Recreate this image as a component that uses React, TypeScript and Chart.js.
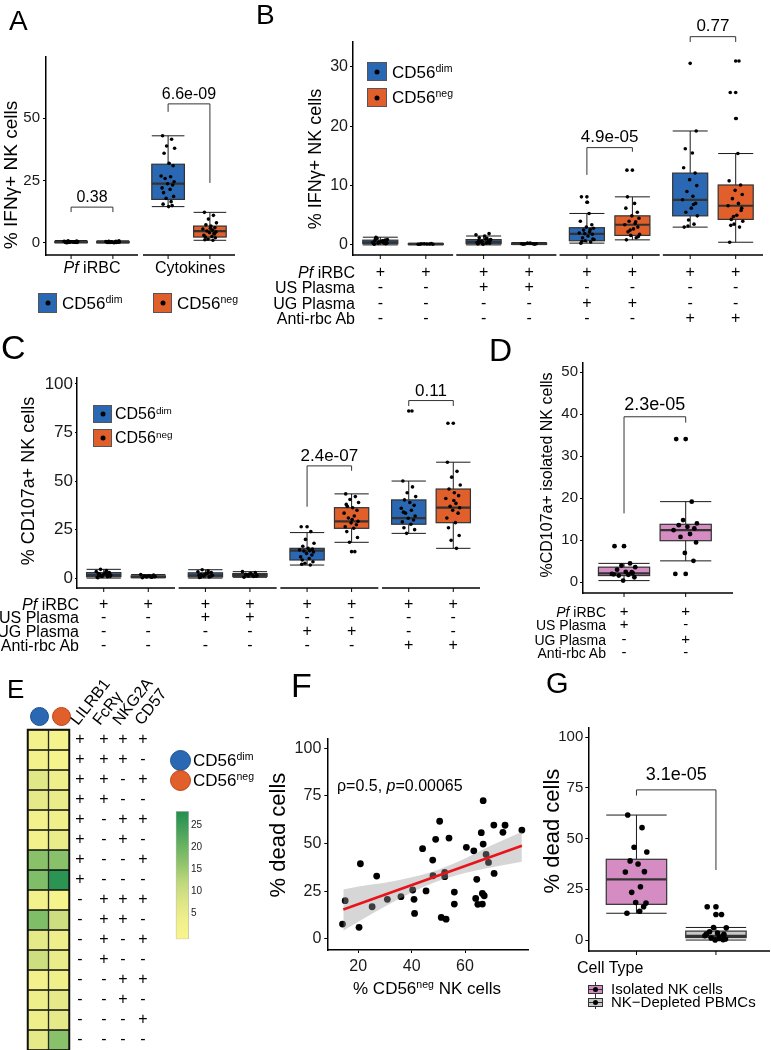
import React, { useEffect, useRef } from 'react';
import { Chart, registerables } from 'chart.js';

Chart.register(...registerables);

const W = 771;
const H = 1050;
const FF = 'Arial, "Liberation Sans", Helvetica, sans-serif';
const BLUE = '#2a68b3';
const ORANGE = '#e05f2a';
const PINK = '#d48cc3';
const GREYBOX = '#c8c8c8';

// ===================== DATA =====================
const CELL_SUP = ['dim', 'neg'];
const COND_ROWS = ['Pf iRBC', 'US Plasma', 'UG Plasma', 'Anti-rbc Ab'];
const JITTER = [-0.11, 0.07, -0.03, 0.13, -0.08, 0.02, 0.1, -0.14, 0.05, -0.06, 0.12, -0.01, 0.09, -0.12, 0.04, -0.09, 0.11, -0.04, 0.06, -0.1, 0.01, 0.08, -0.07];

// ---- Panel A : % IFNg+ NK cells (Pf iRBC / Cytokines) ----
const A_facets = ['Pf iRBC', 'Cytokines'];
const A_yTicks = [0, 25, 50];
const A_pf_dim_stats = [0.0, 0.1, 0.25, 0.45, 0.9];
const A_pf_dim_pts = [0.1, 0.3, 0.2, 0.5, 0.0, 0.4, 0.2, 0.6, 0.3, 0.8, 0.1, 0.4, 0.2, 0.5, 0.3, 0.1, 0.7, 0.2, 0.4, 0.3];
const A_pf_neg_stats = [0.0, 0.1, 0.2, 0.4, 0.8];
const A_pf_neg_pts = [0.2, 0.1, 0.4, 0.3, 0.6, 0.0, 0.2, 0.5, 0.3, 0.1, 0.8, 0.2, 0.4, 0.3, 0.1, 0.5, 0.2, 0.3, 0.6, 0.1];
const A_cyt_dim_stats = [14.5, 17.4, 23.7, 31.5, 42.9];
const A_cyt_dim_pts = [42.9, 41.5, 38.8, 37.9, 35.9, 31.9, 30.9, 26.8, 26.5, 25.8, 24.5, 23.7, 23.2, 22.0, 21.4, 20.1, 18.6, 17.8, 16.5, 15.5, 14.5, 14.9];
const A_cyt_neg_stats = [1.0, 2.3, 4.7, 6.7, 12.2];
const A_cyt_neg_pts = [12.2, 11.0, 9.5, 8.0, 7.2, 6.7, 6.0, 5.5, 5.0, 4.7, 4.3, 4.0, 3.5, 3.0, 2.5, 2.3, 2.0, 1.5, 1.0, 1.2, 5.8, 3.7];
const A_pvals = ['0.38', '6.6e-09'];
const A_bracketY = [[14.3, 12.3, 12.3], [55.7, 52.5, 24.0]];

// ---- Panel B : % IFNg+ NK cells, 4 conditions ----
const B_yTicks = [0, 10, 20, 30];
const B_stats = [
  [0.0, 0.2, 0.45, 0.8, 1.3], [0.02, 0.08, 0.12, 0.18, 0.3],
  [0.0, 0.2, 0.5, 0.9, 1.5], [0.05, 0.1, 0.18, 0.28, 0.4],
  [0.3, 0.7, 1.85, 2.9, 5.3], [0.85, 1.6, 3.4, 4.9, 8.1],
  [3.0, 4.9, 7.6, 12.1, 19.2], [0.45, 4.3, 6.6, 10.1, 15.4],
];
const B_pts = [
  [0.1, 0.3, 0.5, 0.9, 1.3, 0.6, 0.2, 0.4, 0.7, 1.1, 0.3, 0.5, 0.8, 0.2, 0.6, 1.0, 0.4, 0.3, 0.5, 0.7],
  [0.1, 0.15, 0.2, 0.1, 0.2, 0.15, 0.25, 0.1],
  [0.2, 0.4, 0.6, 0.9, 1.2, 1.5, 1.9, 1.7, 0.3, 0.5, 0.8, 0.1, 0.6, 0.4, 1.0, 0.7, 0.3, 0.5, 1.1, 0.2],
  [0.1, 0.2, 0.3, 0.2, 0.15, 0.3, 0.1, 0.2],
  [0.3, 0.5, 0.7, 0.9, 1.2, 1.5, 1.8, 2.0, 2.2, 2.5, 2.8, 3.0, 3.4, 4.0, 5.3, 0.6, 1.0, 1.9, 2.6, 8.1, 7.2],
  [0.85, 1.2, 1.6, 1.8, 2.2, 2.7, 3.0, 3.4, 3.6, 4.0, 4.5, 4.9, 5.5, 6.2, 7.0, 8.1, 1.4, 2.5, 3.9, 12.6],
  [3.0, 3.5, 4.2, 4.9, 5.5, 6.2, 7.0, 7.6, 8.2, 9.0, 10.0, 11.0, 12.1, 13.0, 15.5, 16.2, 19.2, 3.2, 6.8],
  [0.45, 3.0, 3.5, 4.0, 4.3, 5.0, 5.8, 6.6, 7.0, 7.8, 8.5, 9.2, 10.1, 10.8, 15.4, 3.3, 6.2, 4.8, 31.0, 25.7, 21.3],
];
const B_out = [[], [], [], [], [8.1, 7.2], [12.6], [30.6], [31.0, 25.7, 21.3]];
const B_marks = ['+---', '+---', '++--', '++--', '+-+-', '+-+-', '+--+', '+--+'];
const B_pvals = ['4.9e-05', '0.77'];
const B_bracketY = [[16.4, 11.8, 15.7], [35.1, 34.2, 34.2]];

// ---- Panel C : % CD107a+ NK cells ----
const C_yTicks = [0, 25, 50, 75, 100];
const C_stats = [
  [0.1, 0.8, 1.6, 2.9, 4.6], [0.2, 0.5, 0.8, 1.2, 1.9],
  [0.1, 0.7, 1.5, 2.8, 4.4], [0.5, 1.0, 1.6, 2.4, 3.4],
  [6.8, 9.4, 14.2, 15.4, 23.5], [18.5, 25.7, 29.3, 36.3, 43.4],
  [23.1, 27.8, 30.9, 40.3, 50.0], [15.4, 28.6, 36.3, 45.9, 59.7],
];
const C_pts = [
  [0.3, 0.8, 1.2, 1.6, 2.0, 2.5, 2.9, 3.5, 4.0, 4.6, 1.0, 1.8, 2.2, 0.5, 3.1, 1.4, 2.7, 0.9, 1.9, 2.4],
  [0.3, 0.5, 0.7, 0.9, 1.1, 1.3, 1.6, 1.9, 0.6, 1.0, 0.8, 1.2],
  [0.4, 0.7, 1.1, 1.5, 1.9, 2.4, 2.8, 3.3, 3.9, 4.4, 1.3, 2.1, 0.9, 1.7, 2.6, 0.6, 3.0, 1.4],
  [0.5, 0.9, 1.2, 1.6, 2.0, 2.4, 2.9, 3.4, 1.4, 1.8, 1.1, 2.2],
  [26.5, 24.0, 20.0, 18.0, 16.5, 15.4, 15.0, 14.6, 14.2, 14.0, 13.5, 12.8, 12.0, 11.0, 10.2, 9.4, 8.5, 7.7, 6.8, 7.2],
  [43.4, 42.0, 40.5, 39.0, 37.0, 36.3, 35.0, 33.5, 32.0, 31.0, 29.3, 28.5, 27.5, 26.5, 25.7, 24.0, 21.0, 18.5, 13.7, 38.0, 30.2],
  [50.0, 47.0, 44.0, 42.0, 40.3, 39.0, 37.5, 36.0, 35.0, 33.5, 32.0, 30.9, 30.0, 29.0, 27.8, 26.0, 25.0, 23.1, 86.0, 34.0],
  [59.7, 55.0, 52.0, 48.0, 45.9, 44.0, 42.5, 41.0, 38.5, 37.0, 36.3, 35.0, 33.5, 31.0, 28.6, 26.0, 22.0, 19.5, 15.4, 79.7, 40.0],
];
const C_out = [[], [], [], [], [26.5], [13.7], [86.0], [79.7]];
const C_marks = ['+---', '+---', '++--', '++--', '+-+-', '+-+-', '+--+', '+--+'];
const C_pvals = ['2.4e-07', '0.11'];
const C_bracketY = [[57.8, 36.8, 55.3], [91.4, 88.6, 88.6]];

// ---- Panel D : %CD107a+ isolated NK cells ----
const D_yTicks = [0, 10, 20, 30, 40, 50];
const D_stats = [[0.4, 1.6, 2.1, 3.6, 4.5], [5.1, 9.9, 12.4, 13.8, 19.2]];
const D_pts = [
  [8.6, 4.5, 4.0, 3.6, 3.0, 2.5, 2.2, 2.0, 1.8, 1.6, 1.2, 0.4, 2.4, 1.9],
  [34.1, 19.2, 14.8, 14.0, 13.6, 13.2, 12.8, 12.4, 11.5, 10.8, 9.5, 7.0, 5.1, 2.0],
];
const D_out = [[8.6], [34.1, 2.0]];
const D_marks = ['++--', '+-+-'];
const D_pval = '2.3e-05';
const D_bracketY = [39.4, 16.4, 38.0];

// ---- Panel E : heatmap of phenotype combinations ----
const E_markers = ['LILRB1', 'FcRγ', 'NKG2A', 'CD57'];
const E_combos = ['++++', '+++-', '++-+', '++--', '+-++', '+-+-', '+--+', '+---', '-+++', '-++-', '-+-+', '-+--', '--++', '--+-', '---+', '----'];
const E_dim = [2, 2, 7, 6, 2, 2, 17, 18, 2, 18, 6, 10, 2, 4, 4, 6];
const E_neg = [1, 1, 4, 5, 3, 5, 17, 27, 1, 10, 4, 5, 3, 6, 6, 17];
const E_scaleTicks = [5, 10, 15, 20, 25];
const E_scaleMin = -0.9;
const E_scaleMax = 28.2;

// ---- Panel F : % dead cells vs % CD56neg ----
const F_x = [14.1, 15.1, 20.3, 20.8, 25.2, 26.9, 30.9, 36.0, 40.4, 40.9, 41.1, 44.1, 45.4, 47.9, 48.0, 49.0, 50.5, 51.1, 52.4, 52.4, 52.9, 54.0, 56.0, 56.0, 60.5, 63.3, 64.0, 64.4, 64.8, 66.1, 66.8, 66.8, 66.5, 66.5, 67.2, 67.9, 68.8, 70.8, 70.9, 74.2, 75.0, 81.3];
const F_y = [7.7, 20.0, 6.0, 39.4, 16.8, 32.9, 20.7, 22.1, 25.6, 20.7, 13.3, 47.3, 25.1, 41.3, 33.1, 52.2, 61.7, 11.2, 34.9, 32.6, 10.3, 52.9, 24.5, 18.2, 48.0, 46.2, 21.2, 31.2, 18.1, 55.7, 72.5, 49.7, 23.8, 18.2, 22.6, 44.3, 40.1, 59.7, 34.3, 55.9, 59.6, 57.1];
const F_fitX = [14.4, 81.3];
const F_fitY = [15.4, 48.8];
const F_bandX = [14.4, 20, 30, 40, 50, 60, 70, 81.3];
const F_bandLo = [4.2, 8.9, 17.0, 24.3, 30.3, 34.5, 37.5, 40.4];
const F_bandHi = [25.9, 27.5, 29.4, 32.3, 36.3, 42.1, 49.1, 56.2];
const F_xTicks = [20, 40, 60];
const F_yTicks = [0, 25, 50, 75, 100];

// ---- Panel G : % dead cells by cell type ----
const G_types = ['Isolated NK cells', 'NK\u2212Depleted PBMCs'];
const G_yTicks = [0, 25, 50, 75, 100];
const G_stats = [[13.2, 17.6, 29.9, 39.8, 61.6], [0.0, 1.2, 2.1, 4.4, 6.2]];
const G_pts = [
  [61.6, 55.4, 45.7, 43.4, 39.0, 37.5, 33.7, 33.5, 26.3, 23.5, 18.2, 18.5, 16.4, 13.2, 14.2],
  [16.4, 12.6, 6.2, 6.0, 4.1, 3.5, 2.8, 2.1, 1.5, 1.0, 0.5, 0.0, 0.2, 3.0, 0.8],
];
const G_out = [[], [16.4, 12.6]];
const G_pval = '3.1e-05';
const G_bracketY = [74.0, 71.2, 34.5];

// ===================== HELPERS =====================
const FACET_W = 2.2;
const facetPos = (n: number, gap: number) => {
  const r: number[] = [];
  for (let f = 0; f < n; f++) for (let k = 0; k < 2; k++) r.push(f * (FACET_W + gap) + 0.6 + k);
  return r;
};
const facetSegs = (n: number, gap: number) =>
  Array.from({ length: n }, (_, f) => [f * (FACET_W + gap), f * (FACET_W + gap) + FACET_W]);

type Box = { pos: number; color: string; stats: number[]; pts: number[]; out: number[] };
const mkBoxes = (pos: number[], colors: string[], stats: number[][], pts: number[][], out: number[][]): Box[] =>
  pos.map((p, i) => ({ pos: p, color: colors[i % colors.length], stats: stats[i], pts: pts[i], out: out[i] }));

function seg(ctx: CanvasRenderingContext2D, x1: number, y1: number, x2: number, y2: number) {
  ctx.beginPath();
  ctx.moveTo(x1, y1);
  ctx.lineTo(x2, y2);
  ctx.stroke();
}

const yAxis = (min: number, max: number, ticks: number[], size: number, len: number, pad: number) => ({
  type: 'linear',
  min,
  max,
  afterFit: (sc: any) => { sc.width = 40; },
  afterBuildTicks: (sc: any) => { sc.ticks = ticks.map((v) => ({ value: v })); },
  grid: { display: true, drawOnChartArea: false, drawTicks: true, tickLength: len, color: '#000', lineWidth: 1 },
  border: { display: true, color: '#000', width: 1.5 },
  ticks: { font: { family: FF, size }, color: '#1a1a1a', padding: pad, autoSkip: false },
});

const baseOpts = (area: number[], leftAxisW: number, bottomAxisH: number) => ({
  animation: false,
  responsive: false,
  devicePixelRatio: 1,
  events: [],
  layout: {
    autoPadding: false,
    padding: { left: area[0] - leftAxisW, top: area[1], right: W - area[2], bottom: H - area[3] - bottomAxisH },
  },
  plugins: { legend: { display: false }, tooltip: { enabled: false } },
});

type Spec = {
  area: number[]; x: number[]; y: number[]; yTicks: number[];
  tick: number[]; boxes: Box[]; boxW: number; jit: number; ptR: number;
  segs: number[][]; brackets: any[]; pSize: number; pGap: number;
  signs?: { rows: number[]; marks: string[]; size: number };
};

function boxConfig(s: Spec) {
  const pts: any[] = [];
  const outs: any[] = [];
  s.boxes.forEach((b) => {
    b.pts.forEach((v, i) => pts.push({ x: b.pos + JITTER[i % JITTER.length] * s.jit, y: v }));
    b.out.forEach((v) => outs.push({ x: b.pos, y: v }));
  });
  const plugin = {
    id: 'boxes',
    beforeDatasetsDraw(chart: any) {
      const { ctx, chartArea: ca } = chart;
      const xs = chart.scales.x;
      const ys = chart.scales.y;
      ctx.save();
      ctx.strokeStyle = '#000';
      ctx.lineWidth = 1.5;
      const yb = ca.bottom;
      s.segs.forEach(([a, b]) => seg(ctx, xs.getPixelForValue(a), yb, xs.getPixelForValue(b), yb));
      ctx.lineWidth = 1;
      s.boxes.forEach((b) => {
        const x = xs.getPixelForValue(b.pos);
        seg(ctx, x, yb, x, yb + 4);
      });
      s.boxes.forEach((b) => {
        const cx = xs.getPixelForValue(b.pos);
        const hw = xs.getPixelForValue(b.pos + s.boxW / 2) - cx;
        const [lo, q1, md, q3, hi] = b.stats.map((v) => ys.getPixelForValue(v));
        ctx.strokeStyle = '#1a1a1a';
        ctx.lineWidth = 1;
        seg(ctx, cx, lo, cx, hi);
        seg(ctx, cx - hw, lo, cx + hw, lo);
        seg(ctx, cx - hw, hi, cx + hw, hi);
        ctx.fillStyle = b.color;
        ctx.fillRect(cx - hw, q3, 2 * hw, q1 - q3);
        ctx.strokeStyle = '#333';
        ctx.lineWidth = 1.2;
        ctx.strokeRect(cx - hw, q3, 2 * hw, q1 - q3);
        ctx.lineWidth = 2.2;
        seg(ctx, cx - hw, md, cx + hw, md);
      });
      ctx.restore();
    },
    afterDatasetsDraw(chart: any) {
      const { ctx } = chart;
      const xs = chart.scales.x;
      const ys = chart.scales.y;
      ctx.save();
      ctx.strokeStyle = '#333';
      ctx.lineWidth = 1;
      ctx.fillStyle = '#000';
      ctx.textAlign = 'center';
      ctx.textBaseline = 'middle';
      ctx.font = `${s.pSize}px ${FF}`;
      s.brackets.forEach((br) => {
        const xa = xs.getPixelForValue(s.boxes[br.a].pos);
        const xb = xs.getPixelForValue(s.boxes[br.b].pos);
        const y = ys.getPixelForValue(br.y);
        ctx.beginPath();
        ctx.moveTo(xa, ys.getPixelForValue(br.yl));
        ctx.lineTo(xa, y);
        ctx.lineTo(xb, y);
        ctx.lineTo(xb, ys.getPixelForValue(br.yr));
        ctx.stroke();
        ctx.fillText(br.label, (xa + xb) / 2, y - s.pGap);
      });
      if (s.signs) {
        const sg = s.signs;
        ctx.font = `${sg.size}px ${FF}`;
        sg.rows.forEach((ry, r) => {
          s.boxes.forEach((b, i) => {
            ctx.fillText(sg.marks[i][r], xs.getPixelForValue(b.pos), ry);
          });
        });
      }
      ctx.restore();
    },
  };
  const [tSize, tLen, tPad] = s.tick;
  return {
    type: 'scatter',
    data: {
      datasets: [
        { data: pts, pointRadius: s.ptR, pointHoverRadius: s.ptR, backgroundColor: '#000', borderWidth: 0 },
        { data: outs, pointRadius: s.ptR, pointHoverRadius: s.ptR, backgroundColor: '#000', borderWidth: 0 },
      ],
    },
    options: {
      ...baseOpts(s.area, 40, 0),
      scales: {
        x: { type: 'linear', display: false, min: s.x[0], max: s.x[1] },
        y: yAxis(s.y[0], s.y[1], s.yTicks, tSize, tLen, tPad),
      },
    },
    plugins: [plugin],
  };
}

const mkBrackets = (pairs: number[][], ys: number[][], labels: string[]) =>
  pairs.map((p, i) => ({ a: p[0], b: p[1], y: ys[i][0], yl: ys[i][1], yr: ys[i][2], label: labels[i] }));

// ===================== PANEL SPECS =====================
const A_GAP = 0.12;
const specA: Spec = {
  area: [46, 57, 235, 255], x: [0, 2 * FACET_W + A_GAP], y: [-4.9, 74.5], yTicks: A_yTicks,
  tick: [15, 3, 3],
  boxes: mkBoxes(facetPos(2, A_GAP), [BLUE, ORANGE],
    [A_pf_dim_stats, A_pf_neg_stats, A_cyt_dim_stats, A_cyt_neg_stats],
    [A_pf_dim_pts, A_pf_neg_pts, A_cyt_dim_pts, A_cyt_neg_pts], [[], [], [], []]),
  boxW: 0.78, jit: 1.2, ptR: 1.8,
  segs: facetSegs(2, A_GAP),
  brackets: mkBrackets([[0, 1], [2, 3]], A_bracketY, A_pvals), pSize: 16, pGap: 9.5,
};

const B_GAP = 0.07;
const specB: Spec = {
  area: [353, 42, 763, 255], x: [0, 4 * FACET_W + 3 * B_GAP], y: [-1.7, 34.2], yTicks: B_yTicks,
  tick: [16, 3, 2],
  boxes: mkBoxes(facetPos(4, B_GAP), [BLUE, ORANGE], B_stats, B_pts, B_out),
  boxW: 0.77, jit: 1.2, ptR: 1.8,
  segs: facetSegs(4, B_GAP),
  brackets: mkBrackets([[4, 5], [6, 7]], B_bracketY, B_pvals), pSize: 17, pGap: 10,
  signs: { rows: [273, 288, 304, 319], marks: B_marks, size: 16 },
};

const C_GAP = 0.083;
const specC: Spec = {
  area: [77, 378, 480, 588], x: [0, 4 * FACET_W + 3 * C_GAP], y: [-5.0, 103], yTicks: C_yTicks,
  tick: [17, 2, 2],
  boxes: mkBoxes(facetPos(4, C_GAP), [BLUE, ORANGE], C_stats, C_pts, C_out),
  boxW: 0.77, jit: 1.2, ptR: 1.8,
  segs: facetSegs(4, C_GAP),
  brackets: mkBrackets([[4, 5], [6, 7]], C_bracketY, C_pvals), pSize: 17, pGap: 9.3,
  signs: { rows: [605, 618, 632, 646], marks: C_marks, size: 16 },
};

const specD: Spec = {
  area: [583, 363, 733, 593], x: [0.335, 2.767], y: [-2.55, 52.2], yTicks: D_yTicks,
  tick: [15, 3, 2],
  boxes: mkBoxes([1, 2], [PINK], D_stats, D_pts, D_out),
  boxW: 0.83, jit: 1.4, ptR: 2.4,
  segs: [[0.335, 2.767]],
  brackets: mkBrackets([[0, 1]], [D_bracketY], [D_pval]), pSize: 18, pGap: 11.7,
  signs: { rows: [612, 625, 640, 653], marks: D_marks, size: 15 },
};

const specG: Spec = {
  area: [588.3, 728, 770, 951], x: [0.394, 2.68], y: [-5.4, 104.5], yTicks: G_yTicks,
  tick: [15, 3, 2],
  boxes: mkBoxes([1, 2], [PINK, GREYBOX], G_stats, G_pts, G_out),
  boxW: 0.76, jit: 1.0, ptR: 2.8,
  segs: [[0.394, 2.68]],
  brackets: mkBrackets([[0, 1]], [G_bracketY], [G_pval]), pSize: 18, pGap: 15,
};

// ===================== HEATMAP (E) =====================
const HEAT_STOPS: [number, string][] = [
  [0, '#f7f48c'], [4, '#eeee8a'], [8, '#dbe486'], [12, '#bfd87c'],
  [16, '#93c56d'], [20, '#6cb463'], [24, '#45a05a'], [28, '#23904f'],
];
const hexRgb = (h: string) => [1, 3, 5].map((i) => parseInt(h.slice(i, i + 2), 16));
function heat(v: number): string {
  const st = HEAT_STOPS;
  if (v <= st[0][0]) return st[0][1];
  for (let i = 1; i < st.length; i++) {
    if (v <= st[i][0]) {
      const t = (v - st[i - 1][0]) / (st[i][0] - st[i - 1][0]);
      const a = hexRgb(st[i - 1][1]);
      const b = hexRgb(st[i][1]);
      return `rgb(${a.map((c, j) => Math.round(c + (b[j] - c) * t)).join(',')})`;
    }
  }
  return st[st.length - 1][1];
}

function heatConfig() {
  const signX = [80, 104, 123, 143];
  return {
    type: 'bar',
    data: {
      labels: CELL_SUP,
      datasets: E_combos.map((c, i) => ({
        label: c,
        data: [1, 1],
        backgroundColor: [heat(E_dim[i]), heat(E_neg[i])],
        borderColor: '#111',
        borderWidth: 1,
        borderSkipped: false,
        barPercentage: 1,
        categoryPercentage: 1,
        stack: 'rows',
      })),
    },
    options: {
      ...baseOpts([28, 730, 69, 1050], 0, 0),
      scales: {
        x: { stacked: true, display: false },
        y: { stacked: true, display: false, reverse: true, min: 0, max: E_combos.length },
      },
    },
    plugins: [{
      id: 'signs',
      afterDatasetsDraw(chart: any) {
        const { ctx } = chart;
        const ys = chart.scales.y;
        ctx.save();
        ctx.strokeStyle = '#111';
        ctx.lineWidth = 1.5;
        const ca = chart.chartArea;
        ctx.strokeRect(ca.left - 0.5, ca.top - 0.5, ca.right - ca.left + 1, ca.bottom - ca.top + 1);
        ctx.fillStyle = '#000';
        ctx.font = `16px ${FF}`;
        ctx.textAlign = 'center';
        ctx.textBaseline = 'middle';
        E_combos.forEach((c, i) => {
          const y = ys.getPixelForValue(i + 0.5);
          c.split('').forEach((m, j) => ctx.fillText(m, signX[j], y));
        });
        ctx.restore();
      },
    }],
  };
}

function colorbarConfig() {
  return {
    type: 'bar',
    data: {
      labels: ['scale'],
      datasets: [{
        data: [[E_scaleMin, E_scaleMax]],
        backgroundColor: (c: any) => {
          const ch = c.chart;
          const ys = ch.scales && ch.scales.y;
          if (!ch.chartArea || !ys) return HEAT_STOPS[0][1];
          const g = ch.ctx.createLinearGradient(0, ys.getPixelForValue(E_scaleMin), 0, ys.getPixelForValue(E_scaleMax));
          HEAT_STOPS.forEach(([v, col]) =>
            g.addColorStop(Math.min(1, Math.max(0, (v - E_scaleMin) / (E_scaleMax - E_scaleMin))), col));
          return g;
        },
        borderColor: '#bbb',
        borderWidth: 1,
        borderSkipped: false,
        barPercentage: 1,
        categoryPercentage: 1,
      }],
    },
    options: {
      ...baseOpts([175.7, 811, 189, 939.3], 0, 0),
      layout: { autoPadding: false, padding: { left: 175.7, top: 811, right: W - 189 - 25, bottom: H - 939.3 } },
      scales: {
        x: { display: false },
        y: {
          position: 'right', min: E_scaleMin, max: E_scaleMax,
          afterFit: (sc: any) => { sc.width = 25; },
          afterBuildTicks: (sc: any) => { sc.ticks = E_scaleTicks.map((v) => ({ value: v })); },
          grid: { display: false, drawTicks: false },
          border: { display: false },
          ticks: { font: { family: FF, size: 10 }, color: '#222', padding: 2, autoSkip: false },
        },
      },
    },
  };
}

// ===================== SCATTER (F) =====================
function scatterConfig() {
  return {
    type: 'scatter',
    data: {
      datasets: [
        { type: 'line', data: F_fitX.map((x, i) => ({ x, y: F_fitY[i] })), borderColor: '#e8141c', borderWidth: 2.6, pointRadius: 0, fill: false, order: 1 },
        { type: 'line', data: F_bandX.map((x, i) => ({ x, y: F_bandLo[i] })), borderColor: 'rgba(0,0,0,0)', borderWidth: 1, pointRadius: 0, fill: false, cubicInterpolationMode: 'monotone', order: 2 },
        { type: 'line', data: F_bandX.map((x, i) => ({ x, y: F_bandHi[i] })), borderColor: 'rgba(0,0,0,0)', borderWidth: 1, pointRadius: 0, fill: '-1', backgroundColor: 'rgba(153,153,153,0.4)', cubicInterpolationMode: 'monotone', order: 2 },
        { type: 'scatter', data: F_x.map((x, i) => ({ x, y: F_y[i] })), pointRadius: 3.4, pointHoverRadius: 3.4, backgroundColor: '#000', borderWidth: 0, order: 3 },
      ],
    },
    options: {
      ...baseOpts([327.3, 739, 528, 950], 40, 30),
      scales: {
        x: {
          type: 'linear', min: 8.4, max: 83.6,
          afterFit: (sc: any) => { sc.height = 30; },
          afterBuildTicks: (sc: any) => { sc.ticks = F_xTicks.map((v) => ({ value: v })); },
          grid: { display: true, drawOnChartArea: false, drawTicks: true, tickLength: 3, color: '#000', lineWidth: 1 },
          border: { display: true, color: '#000', width: 1.5 },
          ticks: { font: { family: FF, size: 16 }, color: '#1a1a1a', padding: 4, autoSkip: false, maxRotation: 0 },
        },
        y: yAxis(-5.9, 104.9, F_yTicks, 16, 3, 3),
      },
    },
  };
}

// ===================== REACT =====================
function ChartCanvas({ build }: { build: () => any }) {
  const ref = useRef<HTMLCanvasElement>(null);
  useEffect(() => {
    const chart = new Chart(ref.current as HTMLCanvasElement, build());
    return () => chart.destroy();
  }, [build]);
  return <canvas ref={ref} width={W} height={H} style={{ position: 'absolute', left: 0, top: 0, width: W, height: H }} />;
}

const BUILDERS: (() => any)[] = [
  () => boxConfig(specA),
  () => boxConfig(specB),
  () => boxConfig(specC),
  () => boxConfig(specD),
  heatConfig,
  colorbarConfig,
  scatterConfig,
  () => boxConfig(specG),
];

function T({ x, y, s, a = 'l', v = false, children, style }: any) {
  const tx = a === 'l' ? '0' : a === 'c' ? '-50%' : '-100%';
  const transform = v ? 'translate(-50%,-50%) rotate(-90deg)' : `translate(${tx},-50%)`;
  return (
    <div style={{ position: 'absolute', left: x, top: y, fontSize: s, lineHeight: 1, whiteSpace: 'nowrap', transform, ...style }}>
      {children}
    </div>
  );
}

const Sup = ({ children }: any) => (
  <span style={{ fontSize: '0.62em', position: 'relative', top: '-0.55em' }}>{children}</span>
);

function Key({ x, y, w, h, color }: any) {
  return (
    <div style={{ position: 'absolute', left: x, top: y, width: w, height: h, background: color, border: '1px solid #555', boxSizing: 'border-box' }}>
      <div style={{ position: 'absolute', left: '50%', top: '50%', width: 5, height: 5, borderRadius: '50%', background: '#000', transform: 'translate(-50%,-50%)' }} />
    </div>
  );
}

function Circle({ x, y, r, color, edge }: any) {
  return (
    <div style={{ position: 'absolute', left: x - r, top: y - r, width: 2 * r, height: 2 * r, borderRadius: '50%', background: color, border: `1px solid ${edge}`, boxSizing: 'border-box' }} />
  );
}

function BoxKey({ x, y, color }: any) {
  return (
    <div style={{ position: 'absolute', left: x, top: y, width: 17, height: 14 }}>
      <div style={{ position: 'absolute', left: 8, top: 0, width: 1, height: 14, background: '#333' }} />
      <div style={{ position: 'absolute', left: 1, top: 3, width: 15, height: 9, background: color, border: '1px solid #333', boxSizing: 'border-box' }} />
      <div style={{ position: 'absolute', left: 1, top: 6.5, width: 15, height: 1.5, background: '#333' }} />
      <div style={{ position: 'absolute', left: 6, top: 5, width: 5, height: 5, borderRadius: '50%', background: '#000' }} />
    </div>
  );
}

const condLabel = (r: string) =>
  r.startsWith('Pf ') ? (<><i>Pf</i>{r.slice(2)}</>) : r;

export default function App() {
  const B_rowY = [273, 288, 304, 319];
  const C_rowY = [605, 618, 632, 646];
  const D_rowY = [612, 625, 640, 653];
  const E_headX = [73.5, 95.5, 115.5, 137.5];
  return (
    <div style={{ position: 'absolute', left: 0, top: 0, width: W, height: H, background: '#fff', overflow: 'hidden', fontFamily: FF, color: '#000' }}>
      {BUILDERS.map((b, i) => <ChartCanvas key={i} build={b} />)}

      {/* Panel A */}
      <T x={9} y={21} s={28}>A</T>
      <T x={10} y={175} s={19} v>% IFNγ+ NK cells</T>
      <T x={92} y={268} s={16} a="c">{condLabel(A_facets[0])}</T>
      <T x={190} y={268} s={16} a="c">{A_facets[1]}</T>
      <Key x={38} y={293} w={19} h={20} color={BLUE} />
      <T x={62} y={303} s={17}>CD56<Sup>{CELL_SUP[0]}</Sup></T>
      <Key x={153} y={293} w={19} h={20} color={ORANGE} />
      <T x={177} y={303} s={17}>CD56<Sup>{CELL_SUP[1]}</Sup></T>

      {/* Panel B */}
      <T x={256} y={15} s={28}>B</T>
      <T x={315} y={159} s={18} v>% IFNγ+ NK cells</T>
      <Key x={367} y={62} w={20} h={19} color={BLUE} />
      <T x={392} y={72} s={17}>CD56<Sup>{CELL_SUP[0]}</Sup></T>
      <Key x={367} y={88} w={20} h={19} color={ORANGE} />
      <T x={392} y={97} s={17}>CD56<Sup>{CELL_SUP[1]}</Sup></T>
      {COND_ROWS.map((r, i) => <T key={'b' + i} x={355} y={B_rowY[i]} s={16} a="r">{condLabel(r)}</T>)}

      {/* Panel C */}
      <T x={1} y={347} s={34}>C</T>
      <T x={28} y={481} s={18} v>% CD107a+ NK cells</T>
      <Key x={93} y={405} w={19} h={18} color={BLUE} />
      <T x={115} y={414} s={16}>CD56<Sup>{CELL_SUP[0]}</Sup></T>
      <Key x={93} y={429} w={19} h={18} color={ORANGE} />
      <T x={115} y={438} s={16}>CD56<Sup>{CELL_SUP[1]}</Sup></T>
      {COND_ROWS.map((r, i) => <T key={'c' + i} x={79} y={C_rowY[i]} s={16} a="r">{condLabel(r)}</T>)}

      {/* Panel D */}
      <T x={489} y={350} s={32}>D</T>
      <T x={547} y={475} s={16} v>%CD107a+ isolated NK cells</T>
      {COND_ROWS.map((r, i) => <T key={'d' + i} x={606} y={D_rowY[i]} s={14} a="r">{condLabel(r)}</T>)}

      {/* Panel E */}
      <T x={7} y={689} s={26}>E</T>
      <Circle x={39} y={716} r={9.5} color={BLUE} edge="#1d4f8c" />
      <Circle x={61} y={716} r={9.5} color={ORANGE} edge="#b84418" />
      {E_markers.map((m, i) => (
        <div key={'h' + i} style={{ position: 'absolute', left: E_headX[i], top: 723 - 8, fontSize: 16, lineHeight: '16px', whiteSpace: 'nowrap', transformOrigin: '0 50%', transform: 'rotate(-52deg)' }}>{m}</div>
      ))}
      <Circle x={180} y={760} r={10.5} color={BLUE} edge="#1d4f8c" />
      <T x={193} y={760} s={17}>CD56<Sup>{CELL_SUP[0]}</Sup></T>
      <Circle x={180} y={780} r={10.5} color={ORANGE} edge="#b84418" />
      <T x={193} y={780} s={17}>CD56<Sup>{CELL_SUP[1]}</Sup></T>

      {/* Panel F */}
      <T x={291} y={685} s={34}>F</T>
      <T x={278} y={835} s={22} v>% dead cells</T>
      <T x={427} y={988} s={17} a="c">% CD56<Sup>neg</Sup> NK cells</T>
      <T x={337} y={786} s={16}>ρ=0.5, <i>p</i>=0.00065</T>

      {/* Panel G */}
      <T x={546} y={683} s={29}>G</T>
      <T x={552} y={831} s={22} v>% dead cells</T>
      <T x={577} y={968} s={16}>Cell Type</T>
      <BoxKey x={587} y={982} color={PINK} />
      <T x={611} y={988} s={15}>{G_types[0]}</T>
      <BoxKey x={587} y={995} color={GREYBOX} />
      <T x={611} y={1001} s={15}>{G_types[1]}</T>
    </div>
  );
}
